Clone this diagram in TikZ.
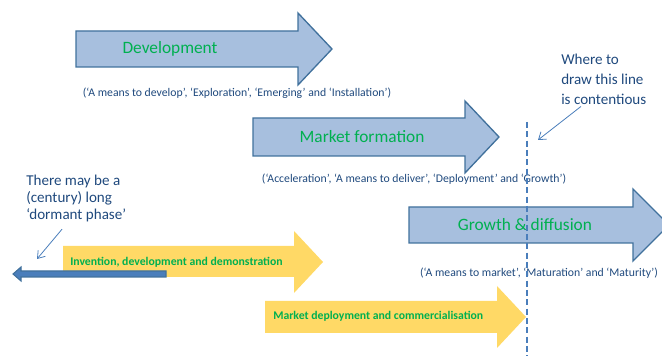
\documentclass[tikz,border=0pt]{standalone}
\usepackage{fontspec}
\setmainfont{Carlito}
\usepackage{tikz}
\usetikzlibrary{arrows.meta}

\definecolor{phasegreen}{HTML}{00B050}
\definecolor{notenavy}{HTML}{1F497D}
\definecolor{arrowfill}{HTML}{A7BFDE}
\definecolor{arrowline}{HTML}{41719C}
\definecolor{stagefill}{HTML}{FFD966}
\definecolor{pointer}{HTML}{4A7EBB}

\tikzstyle{bluearrow} = [fill=arrowfill, draw=arrowline, line width=1pt, line join=miter]
\tikzstyle{yellowarrow} = [fill=stagefill]
\tikzstyle{phase} = [text=phasegreen, inner sep=0pt, font=\fontsize{13}{15}\selectfont]
\tikzstyle{stage} = [text=phasegreen, inner sep=0pt, anchor=west, font=\fontsize{8.8}{10}\selectfont\bfseries]
\tikzstyle{alias} = [text=notenavy, inner sep=0pt, font=\fontsize{8.8}{10}\selectfont]
\tikzstyle{note} = [text=notenavy, inner sep=0pt, anchor=north west, align=left]
\tikzstyle{pointer} = [draw=pointer, line width=0.6pt, -{Straight Barb[length=5pt,width=7pt]}]

\begin{document}
\begin{tikzpicture}[x=0.75pt, y=-0.75pt]

	\useasboundingbox (0,0) rectangle (662,356);
	\clip (0,0) rectangle (662,356);

	% Phase arrows
	\draw [bluearrow] (76,31) -- (298,31) -- (298,13) -- (332,49) -- (298,85) -- (298,67) -- (76,67) -- cycle;
	\draw [bluearrow] (253,118) -- (465,118) -- (465,101) -- (499,137) -- (465,173) -- (465,156) -- (253,156) -- cycle;
	\draw [bluearrow] (409,207) -- (633,207) -- (633,189) -- (669,225) -- (633,261) -- (633,243) -- (409,243) -- cycle;

	% Stage arrows
	\path [yellowarrow] (63,246) -- (294,246) -- (294,231) -- (323,262) -- (294,293) -- (294,277) -- (63,277) -- cycle;
	\path [yellowarrow] (265,301) -- (497,301) -- (497,286) -- (526,317) -- (497,348) -- (497,333) -- (265,333) -- cycle;

	% Dormant phase arrow
	\draw [fill=pointer, draw=arrowline, line width=0.8pt] (166,271) -- (21,271) -- (21,267) -- (13,274) -- (21,281) -- (21,277) -- (166,277) -- cycle;

	% Labels
	\node [phase] (dev) at (170,49) {Development};
	\node [phase] (form) at (362,137) {Market formation};
	\node [phase] (diff) at (525,225) {Growth \& diffusion};

	\node [alias] (devalias) at (237,93) {(‘A means to develop’, ‘Exploration’, ‘Emerging’ and ‘Installation’)};
	\node [alias] (formalias) at (414,179) {(‘Acceleration’, ‘A means to deliver’, ‘Deployment’ and ‘Growth’)};
	\node [alias] (diffalias) at (539,273) {(‘A means to market’, ‘Maturation’ and ‘Maturity’)};

	\node [stage] (idd) at (70,262) {Invention, development and demonstration};
	\node [stage] (mdc) at (273,316) {Market deployment and commercialisation};

	% Where the line goes
	\coordinate (cuttop) at (527,122);
	\coordinate (cutbot) at (527,356);
	\draw [pointer, -, line width=1.1pt, dash pattern=on 4.5pt off 2.5pt] (cuttop) -- (cutbot);

	% Notes
	\node [note, font=\fontsize{11.3}{15}\selectfont] (where) at (561,54) {Where to\\draw this line\\is contentious};
	\node [note, font=\fontsize{11.3}{12.8}\selectfont] (dormant) at (26,175) {There may be a\\(century) long\\‘dormant phase’};

	\coordinate (wherehead) at (538,140);
	\coordinate (dormanthead) at (37,259);
	\draw [pointer] ([xshift=15pt,yshift=-1pt]where.south west) -- (wherehead);
	\draw [pointer] ([xshift=27pt,yshift=-5pt]dormant.south west) -- (dormanthead);

\end{tikzpicture}
\end{document}
